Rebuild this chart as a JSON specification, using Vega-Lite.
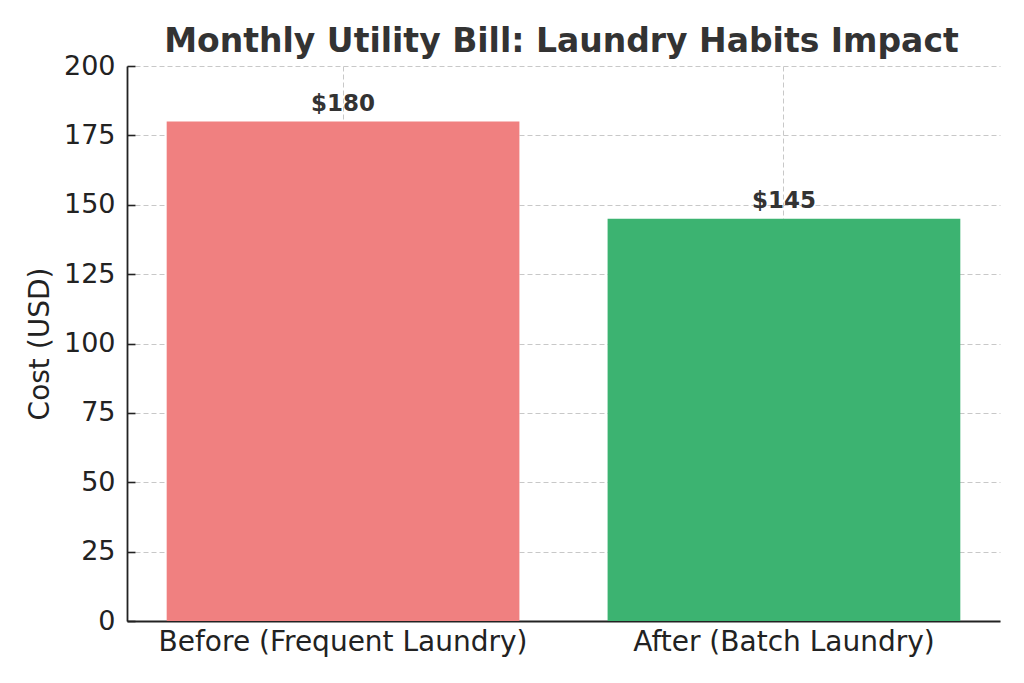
{
  "$schema": "https://vega.github.io/schema/vega-lite/v6.json",
  "autosize": "none",
  "padding": {"left": 127, "top": 66, "right": 24, "bottom": 62},
  "width": 873,
  "height": 555,
  "background": "white",
  "title": {
    "text": "Monthly Utility Bill: Laundry Habits Impact",
    "font": "DejaVu Sans",
    "fontSize": 33,
    "fontWeight": "bold",
    "color": "#333333",
    "anchor": "middle",
    "frame": "group",
    "offset": 7,
    "dy": 14,
    "dx": -2
  },
  "data": {
    "values": [
      {"scenario": "Before (Frequent Laundry)", "cost": 180},
      {"scenario": "After (Batch Laundry)", "cost": 145}
    ]
  },
  "config": {
    "view": {"stroke": null},
    "axis": {
      "labelFont": "DejaVu Sans",
      "titleFont": "DejaVu Sans",
      "labelFontSize": 28,
      "titleFontSize": 28,
      "titleFontWeight": "normal",
      "labelColor": "#222222",
      "titleColor": "#222222",
      "labelLimit": 0,
      "domainColor": "#222222",
      "domainWidth": 1.8,
      "tickColor": "#222222",
      "tickWidth": 1.6,
      "tickSize": -8,
      "gridColor": "#c8c8c8",
      "gridDash": [5, 3],
      "gridWidth": 1,
      "zindex": 1
    }
  },
  "layer": [
    {
      "mark": {"type": "bar"},
      "encoding": {
        "x": {
          "field": "scenario",
          "type": "nominal",
          "sort": null,
          "scale": {"paddingInner": 0.2, "paddingOuter": 0.09},
          "axis": {"title": null, "labelAngle": 0, "labelPadding": 15, "grid": true}
        },
        "y": {
          "field": "cost",
          "type": "quantitative",
          "scale": {"domain": [0, 200], "nice": false},
          "axis": {
            "title": "Cost (USD)",
            "values": [0, 25, 50, 75, 100, 125, 150, 175, 200],
            "labelFontSize": 27,
            "labelPadding": 20,
            "titlePadding": 9
          }
        },
        "color": {
          "field": "scenario",
          "type": "nominal",
          "sort": null,
          "scale": {"range": ["#F08080", "#3CB371"]},
          "legend": null
        }
      }
    },
    {
      "mark": {
        "type": "text",
        "font": "DejaVu Sans",
        "fontSize": 23,
        "fontWeight": "bold",
        "color": "#333333",
        "baseline": "alphabetic",
        "dy": -11
      },
      "encoding": {
        "x": {"field": "scenario", "type": "nominal", "sort": null},
        "y": {"field": "cost", "type": "quantitative"},
        "text": {"field": "cost", "type": "quantitative", "format": "$.0f"}
      }
    }
  ]
}
